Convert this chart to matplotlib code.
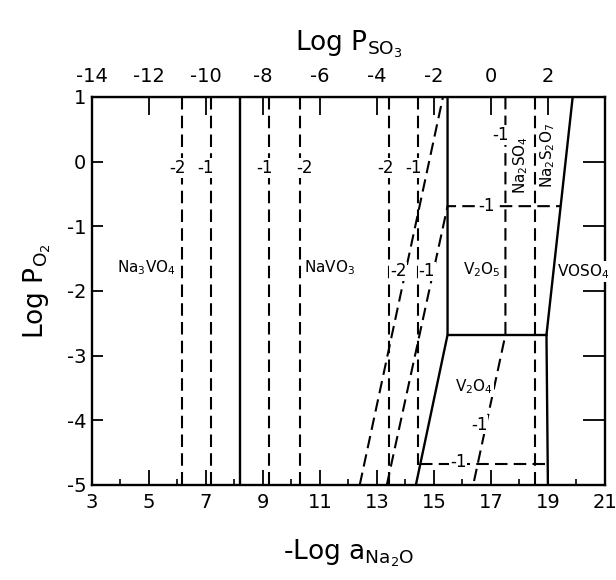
import numpy as np
import matplotlib
matplotlib.use('Agg')
import matplotlib.pyplot as plt

plt.rcParams['axes.unicode_minus'] = False
plt.rcParams['font.family'] = ['DejaVu Sans']

# solid phase boundaries (x = -log a_Na2O, y = log P_O2)
b1_x = [8.2, 8.2]
b1_y = [1, -5]
b2_x = [15.48, 15.48, 14.37]
b2_y = [1, -2.68, -5]
b3_x = [15.48, 18.95]
b3_y = [-2.68, -2.68]
b4_x = [18.95, 19.0]
b4_y = [-2.68, -5]
b5_x = [18.95, 19.87]
b5_y = [-2.68, 1]

# dashed iso-lines
d_na3_2 = ([6.17, 6.17], [1, -5])
d_na3_1 = ([7.19, 7.19], [1, -5])
d_nav_1 = ([9.23, 9.23], [1, -5])
d_nav_2 = ([10.29, 10.29], [1, -5])
d_nav_v2 = ([13.42, 13.42], [1, -5])
d_nav_v1 = ([14.45, 14.45], [1, -4.7])
d_slant_2 = ([12.40, 15.32], [-5, 1])
d_slant_1 = ([13.35, 15.48, 19.45], [-5, -0.69, -0.69])
d_v2o5_1 = ([17.51, 17.51, 16.38], [1, -2.68, -5])
d_so4_1 = ([18.56, 18.56], [1, -5])
d_v2o4_1 = ([14.5, 19.0], [-4.67, -4.67])

dashed = [d_na3_2, d_na3_1, d_nav_1, d_nav_2, d_nav_v2, d_nav_v1,
          d_slant_2, d_slant_1, d_v2o5_1, d_so4_1, d_v2o4_1]

# iso-line labels
lab_x = [6.0, 7.0, 9.05, 10.45, 13.3, 14.3, 13.75, 14.75, 17.35, 16.85, 16.6, 15.85]
lab_y = [-0.1, -0.1, -0.1, -0.1, -0.1, -0.1, -1.7, -1.7, 0.41, -0.69, -4.07, -4.64]
lab_t = ['-2', '-1', '-1', '-2', '-2', '-1', '-2', '-1', '-1', '-1', '-1', '-1']

# phase field names
ph_x = [4.9, 11.35, 16.7, 20.25, 16.4]
ph_y = [-1.64, -1.64, -1.67, -1.7, -3.48]
ph_t = [r'Na$_3$VO$_4$', r'NaVO$_3$', r'V$_2$O$_5$', r'VOSO$_4$', r'V$_2$O$_4$']

rot_x = [18.03, 19.0]
rot_y = [-0.05, 0.1]
rot_t = [r'Na$_2$SO$_4$', r'Na$_2$S$_2$O$_7$']

xticks = np.arange(3, 22, 2)
yticks = np.arange(-5, 2, 1)
top_ticks = np.arange(-14, 3, 2)

fig = plt.figure(figsize=(6.16, 5.8), dpi=100)
ax = fig.add_axes([0.149, 0.164, 0.833, 0.669])

for bx, by in [(b1_x, b1_y), (b2_x, b2_y), (b3_x, b3_y), (b4_x, b4_y), (b5_x, b5_y)]:
    ax.plot(bx, by, color='black', lw=1.7, solid_joinstyle='miter')

for dx, dy in dashed:
    ax.plot(dx, dy, color='black', lw=1.5, linestyle=(0, (6, 3)))

for x, y, t in zip(lab_x, lab_y, lab_t):
    ax.text(x, y, t, fontsize=12, ha='center', va='center',
            bbox=dict(facecolor='white', edgecolor='none', pad=0.5))

for x, y, t in zip(ph_x, ph_y, ph_t):
    ax.text(x, y, t, fontsize=11, ha='center', va='center',
            bbox=dict(facecolor='white', edgecolor='none', pad=0.5))

for x, y, t in zip(rot_x, rot_y, rot_t):
    ax.text(x, y, t, fontsize=11, ha='center', va='center', rotation=90,
            bbox=dict(facecolor='white', edgecolor='none', pad=0.5))

ax.set_xlim(3, 21)
ax.set_ylim(-5, 1)
ax.set_xticks(xticks)
ax.set_xticks(np.arange(4, 21, 2), minor=True)
ax.set_yticks(yticks)
ax.tick_params(axis='x', which='major', direction='in', length=11, width=1.3,
               labelsize=14, pad=6)
ax.tick_params(axis='x', which='minor', direction='in', length=4, width=1.2)
ax.tick_params(axis='y', which='major', direction='in', length=8, width=1.3,
               labelsize=14, pad=4, right=True)
for t in ax.yaxis.get_ticklines()[1::2]:
    t.set_markersize(16)
for s in ax.spines.values():
    s.set_linewidth(1.7)

top = ax.secondary_xaxis('top', functions=(lambda x: x - 17, lambda p: p + 17))
top.set_xticks(top_ticks)
top.tick_params(direction='in', length=13, width=1.3, labelsize=14, pad=8)

ax.set_xlabel(r'-Log a$_{\mathrm{Na_2O}}$', fontsize=19, labelpad=18)
ax.set_ylabel(r'Log P$_{\mathrm{O_2}}$', fontsize=19, labelpad=10)
top.set_xlabel(r'Log P$_{\mathrm{SO_3}}$', fontsize=19, labelpad=12)

fig.savefig('out.png', dpi=100)
